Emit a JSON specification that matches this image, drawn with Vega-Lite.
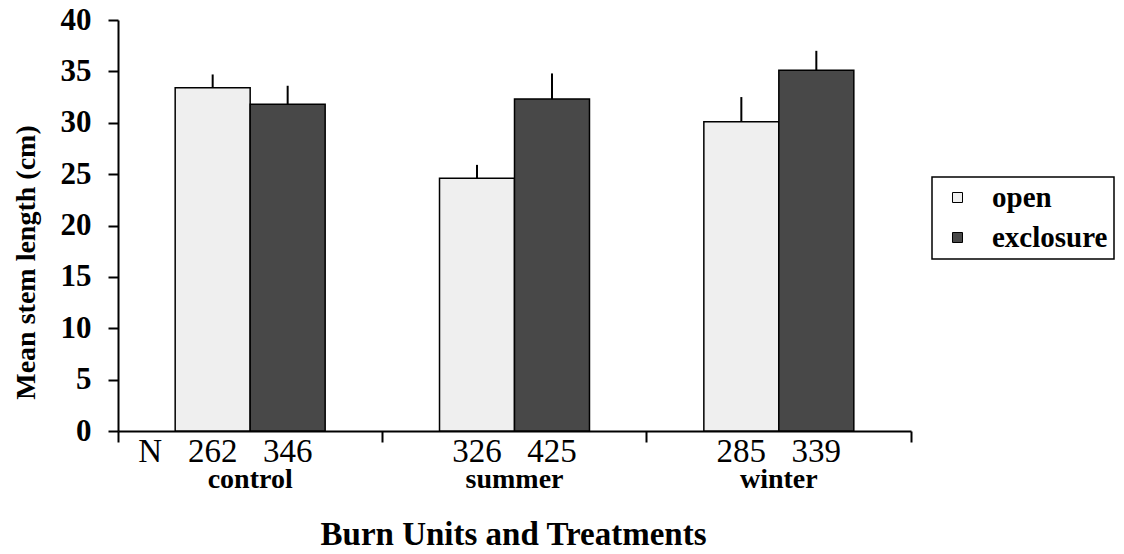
{
  "$schema": "https://vega.github.io/schema/vega-lite/v6.json",
  "width": 793,
  "height": 411,
  "autosize": {"type": "none"},
  "padding": {"left": 118, "top": 20, "right": 213, "bottom": 123},
  "background": "white",
  "config": {
    "view": {"stroke": null},
    "font": "Liberation Serif",
    "axis": {"grid": false, "domainColor": "black", "tickColor": "black", "domainWidth": 2, "tickWidth": 2, "labelColor": "black", "titleColor": "black", "labelFont": "Liberation Serif", "titleFont": "Liberation Serif", "labelFontWeight": "bold", "titleFontWeight": "bold"},
    "legend": {
      "orient": "none", "legendX": 814, "legendY": 157,
      "strokeColor": "black", "strokeWidth": 1.5, "padding": 6,
      "symbolType": "square", "symbolSize": 100, "symbolOffset": 5,
      "symbolStrokeColor": "black", "symbolStrokeWidth": 1,
      "labelOffset": 20, "labelFontSize": 29, "labelFont": "Liberation Serif", "labelFontWeight": "bold", "labelColor": "black",
      "rowPadding": 10, "labelLimit": 300
    }
  },
  "datasets": {
    "bars": [
      {"unit": "control", "treatment": "open", "mean": 33.4, "upper": 34.7, "n": "262"},
      {"unit": "control", "treatment": "exclosure", "mean": 31.8, "upper": 33.6, "n": "346"},
      {"unit": "summer", "treatment": "open", "mean": 24.6, "upper": 25.9, "n": "326"},
      {"unit": "summer", "treatment": "exclosure", "mean": 32.3, "upper": 34.8, "n": "425"},
      {"unit": "winter", "treatment": "open", "mean": 30.1, "upper": 32.5, "n": "285"},
      {"unit": "winter", "treatment": "exclosure", "mean": 35.1, "upper": 37.0, "n": "339"}
    ],
    "nlabel": [{"unit": "control", "label": "N"}]
  },
  "data": {"name": "bars"},
  "layer": [
    {
      "mark": {"type": "bar", "stroke": "black", "strokeWidth": 1.5},
      "encoding": {
        "x": {
          "field": "unit", "type": "nominal", "sort": ["control", "summer", "winter"],
          "scale": {"paddingInner": 0, "paddingOuter": 0},
          "axis": {
            "title": "Burn Units and Treatments", "titleFontSize": 33, "titleBaseline": "alphabetic", "titleX": 395, "titleY": 113, "titleAnchor": "middle", "titleAlign": "center",
            "bandPosition": 1, "tickExtra": true, "tickSize": 11, "labelOffset": 0,
            "labelFontSize": 28, "labelBaseline": "alphabetic", "labelPadding": 45, "labelAngle": 0,
            "labelOverlap": false, "labelFlush": false
          }
        },
        "xOffset": {
          "field": "treatment", "type": "nominal", "sort": ["open", "exclosure"],
          "scale": {"paddingInner": 0, "paddingOuter": 0.7625}
        },
        "y": {
          "field": "mean", "type": "quantitative",
          "scale": {"domain": [0, 40], "nice": false},
          "axis": {
            "title": "Mean stem length (cm)", "titleFontSize": 28, "titleX": -92, "titleY": 242, "titleBaseline": "middle", "titleAlign": "center", "titleAngle": -90,
            "values": [0, 5, 10, 15, 20, 25, 30, 35, 40], "tickSize": 10, "labelPadding": 17, "labelFontSize": 31
          }
        },
        "fill": {
          "field": "treatment", "type": "nominal", "sort": ["open", "exclosure"],
          "scale": {"domain": ["open", "exclosure"], "range": ["#efefef", "#484848"]},
          "legend": {"title": null}
        }
      }
    },
    {
      "mark": {"type": "rule", "color": "black", "strokeWidth": 2},
      "encoding": {
        "x": {"field": "unit", "type": "nominal", "sort": ["control", "summer", "winter"]},
        "xOffset": {"field": "treatment", "type": "nominal", "sort": ["open", "exclosure"]},
        "y": {"field": "mean", "type": "quantitative"},
        "y2": {"field": "upper"}
      }
    },
    {
      "mark": {"type": "text", "font": "Liberation Serif", "fontSize": 33, "baseline": "alphabetic", "dy": 31, "color": "black"},
      "encoding": {
        "x": {"field": "unit", "type": "nominal", "sort": ["control", "summer", "winter"]},
        "xOffset": {"field": "treatment", "type": "nominal", "sort": ["open", "exclosure"]},
        "y": {"datum": 0},
        "text": {"field": "n"}
      }
    },
    {
      "data": {"name": "nlabel"},
      "mark": {"type": "text", "font": "Liberation Serif", "fontSize": 33, "baseline": "alphabetic", "dy": 31, "dx": -100, "color": "black"},
      "encoding": {
        "x": {"field": "unit", "type": "nominal"},
        "y": {"datum": 0},
        "text": {"field": "label"}
      }
    }
  ]
}
